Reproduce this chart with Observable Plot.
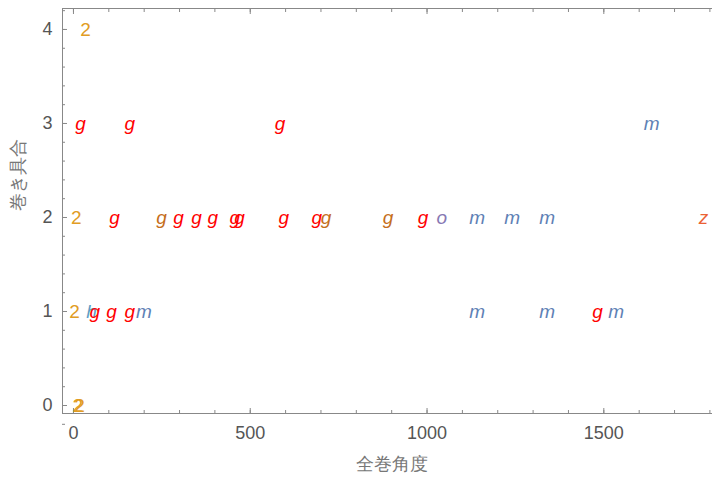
<!DOCTYPE html>
<html>
<head>
<meta charset="utf-8">
<script src="https://cdn.jsdelivr.net/npm/d3@7"></script>
<script src="https://cdn.jsdelivr.net/npm/@observablehq/plot@0.6"></script>
<style>
  html, body { margin: 0; padding: 0; background: #fff; overflow: hidden; }
  svg { max-width: none !important; }
</style>
</head>
<body>
<div id="chart"></div>
<script>
// Data
const labels = ["2",
  "g","g","g","m",
  "2","g","g","g","g","g","g","g","g","g","g","g","g","o","m","m","m","z",
  "2","h","g","g","g","m","m","m","g","m",
  "2","2"];
const xs = [34,
  20,159,584,1635,
  8,116,249,297,348,394,456,470,595,688,714,890,989,1042,1142,1241,1340,1782,
  3,51,60,108,159,199,1142,1340,1482,1535,
  12,17];
const ys = [4,
  3,3,3,3,
  2,2,2,2,2,2,2,2,2,2,2,2,2,2,2,2,2,2,
  1,1,1,1,1,1,1,1,1,1,
  0,0];
const colors = ["#E19C24",
  "#FF0000","#FF0000","#FF0000","#5E81B5",
  "#E19C24","#FF0000","#C56E1A","#FF0000","#FF0000","#FF0000","#FF0000","#FF0000","#FF0000","#FF0000","#C56E1A","#C56E1A","#FF0000","#8778B3","#5E81B5","#5E81B5","#5E81B5","#EB6235",
  "#E19C24","#5D9EC7","#FF0000","#FF0000","#FF0000","#5E81B5","#5E81B5","#5E81B5","#FF0000","#5E81B5",
  "#E19C24","#E19C24"];

const xTicks = [0, 500, 1000, 1500];
const yTicks = [0, 1, 2, 3, 4];
const xMinor = d3.range(0, 1900, 100);
const yMinor = d3.range(-0.2, 4.3, 0.2).map(v => Math.round(v * 10) / 10);
const xLabel = "全巻角度";
const yLabel = "巻き具合";

const points = labels.map((t, i) => ({t, x: xs[i], y: ys[i], c: colors[i], digit: /^[0-9]$/.test(t)}));

const font = "Liberation Sans, Arial, sans-serif";
const tickCol = "#555";
const labelCol = "#777";
const frameCol = "#888";

const chart = Plot.plot({
  width: 720,
  height: 477,
  marginLeft: 62,
  marginRight: 0,
  marginTop: 8,
  marginBottom: 64,
  style: {fontFamily: font, background: "#fff"},
  x: {domain: [-31, 1830]},
  y: {domain: [-0.085, 4.223]},
  color: {type: "identity"},
  marks: [
    Plot.frame({stroke: frameCol}),
    // minor ticks
    Plot.axisX({ticks: xMinor, tickSize: -3, tickFormat: () => "", stroke: frameCol, label: null}),
    Plot.axisX({ticks: xMinor, anchor: "top", tickSize: -3, tickFormat: () => "", stroke: frameCol, label: null}),
    Plot.axisY({ticks: yMinor, tickSize: -3, tickFormat: () => "", stroke: frameCol, label: null}),
    // major ticks
    Plot.axisX({ticks: xTicks, tickSize: -5, tickPadding: 18, tickFormat: d => String(d), stroke: frameCol, fill: tickCol, fontSize: 18, label: null}),
    Plot.axisX({ticks: xTicks, anchor: "top", tickSize: -5, tickFormat: () => "", stroke: frameCol, label: null}),
    Plot.axisY({ticks: yTicks, tickSize: -5, tickPadding: 15, tickFormat: d => String(d), stroke: frameCol, fill: tickCol, fontSize: 18, label: null}),
    // axis titles
    Plot.text([xLabel], {text: d => d, frameAnchor: "bottom", dy: 56, fill: labelCol, fontSize: 18, fontFamily: font}),
    Plot.text([yLabel], {text: d => d, frameAnchor: "left", dx: -44, rotate: -90, fill: labelCol, fontSize: 18, fontFamily: font}),
    // point labels
    Plot.text(points.filter(d => d.digit), {x: "x", y: "y", text: "t", fill: "c", fontSize: 19, fontFamily: font}),
    Plot.text(points.filter(d => !d.digit), {x: "x", y: "y", text: "t", fill: "c", fontSize: 19, fontStyle: "italic", fontFamily: font})
  ]
});
document.getElementById("chart").appendChild(chart);
</script>
</body>
</html>
